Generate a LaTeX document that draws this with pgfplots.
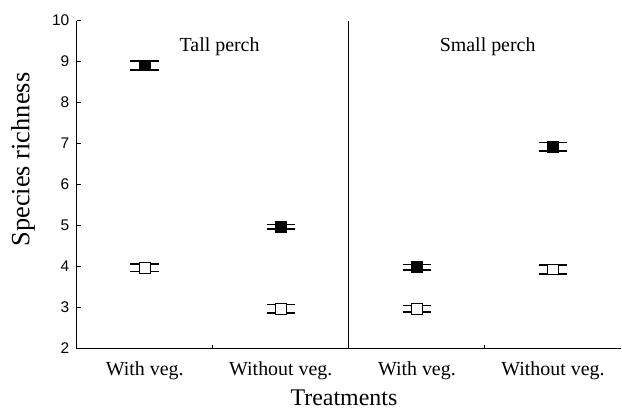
\documentclass[border=0pt]{standalone}
\usepackage{pgfplots}
\pgfplotsset{compat=1.18}
\usepackage{fontspec}
\setmainfont{Liberation Serif}
\newfontfamily\arialf{Liberation Sans}
\begin{document}
\begin{tikzpicture}
\begin{axis}[
  scale only axis, width=544.3bp, height=328bp,
  xmin=0.5, xmax=4.5, ymin=2, ymax=10,
  axis x line=bottom, axis y line=left,
  axis line style={-, line width=1.2bp},
  ytick={2,3,...,10},
  tick align=inside,
  major tick length=4bp,
  tick style={line width=1bp, black},
  /pgf/number format/assume math mode=true,
  yticklabel style={font=\arialf\fontsize{15.5}{15.5}\selectfont, xshift=-4bp},
  xtick={1.5,2.5,3.5}, xticklabels={},
  extra x ticks={1,2,3,4},
  extra x tick labels={With veg., Without veg., With veg., Without veg.},
  extra x tick style={major tick length=0pt,
    xticklabel style={font=\fontsize{20}{20}\selectfont, anchor=base, yshift=-26.5bp}},
  clip=false,
]
\addplot[only marks, mark=square*, mark size=5.35bp,
  mark options={fill=black, draw=black, line width=1bp},
  error bars/.cd, y dir=both, y explicit, error mark=|,
  error mark options={mark size=14.3bp, line width=1.4bp, black},
  error bar style={line width=1.4bp, black}]
  coordinates {
  (1,8.90) +- (0,0.11)
  (2,4.97) +- (0,0.06)
  (3,3.98) +- (0,0.07)
  (4,6.92) +- (0,0.105)
  };
\addplot[only marks, mark=square*, mark size=5.35bp,
  mark options={fill=white, draw=black, line width=1bp},
  error bars/.cd, y dir=both, y explicit, error mark=|,
  error mark options={mark size=14.3bp, line width=1.4bp, black},
  error bar style={line width=1.4bp, black}]
  coordinates {
  (1,3.97) +- (0,0.09)
  (2,2.97) +- (0,0.10)
  (3,2.97) +- (0,0.08)
  (4,3.93) +- (0,0.11)
  };
\draw[line width=1.2bp] (axis cs:2.5,2) -- (axis cs:2.5,10);
\node[font=\fontsize{20}{20}\selectfont, anchor=base] at (axis cs:1.55,9.24) {Tall perch};
\node[font=\fontsize{20}{20}\selectfont, anchor=base] at (axis cs:3.52,9.24) {Small perch};
\node[rotate=90, font=\fontsize{26.5}{26.5}\selectfont] at ([xshift=-53.7bp]rel axis cs:0,0.576) {Species richness};
\node[anchor=base, font=\fontsize{24}{24}\selectfont] at ([yshift=-56.5bp]rel axis cs:0.491,0) {Treatments};
\coordinate (sw) at (rel axis cs:0,0);
\end{axis}
\pgfresetboundingbox
\path (sw) ++(-76.7bp,-65.5bp) rectangle ++(622bp,414bp);
\end{tikzpicture}
\end{document}
